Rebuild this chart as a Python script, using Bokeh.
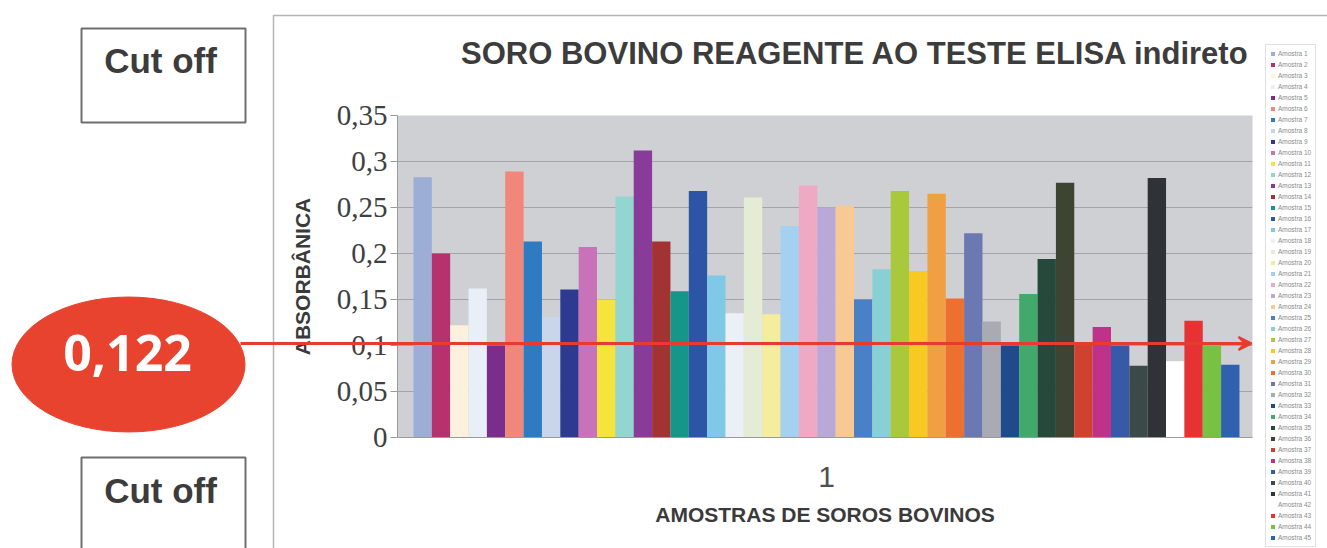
import math
from bokeh.plotting import figure
from bokeh.models import (ColumnDataSource, Label, Arrow, VeeHead, FixedTicker,
                          CustomJSTickFormatter, Legend, LegendItem)
from bokeh.embed import file_html
from bokeh.resources import INLINE

# ---------------- data ----------------
samples = [f"Amostra {i}" for i in range(1, 46)]
absorbance = [0.283, 0.200, 0.122, 0.162, 0.100, 0.289, 0.213, 0.131, 0.161, 0.207,
              0.150, 0.262, 0.312, 0.213, 0.159, 0.268, 0.176, 0.135, 0.261, 0.134,
              0.230, 0.274, 0.250, 0.252, 0.150, 0.183, 0.268, 0.181, 0.265, 0.151,
              0.222, 0.126, 0.100, 0.156, 0.194, 0.277, 0.102, 0.120, 0.100, 0.078,
              0.282, 0.083, 0.127, 0.100, 0.079]
bar_colors = ["#9DAED6", "#B5326F", "#FBF1DC", "#E8EFF6", "#7B2D8B", "#F0877A", "#2F7BC1",
              "#C9D5EA", "#2E3A90", "#C873B9", "#F6E33C", "#93D5D1", "#883B98", "#A33333",
              "#159689", "#2D55A6", "#7FC8E6", "#EAF0F5", "#E5ECD6", "#F4EC9E", "#A5D1F0",
              "#F0A9C2", "#B8A9D6", "#F8C992", "#4B80C6", "#89D0D5", "#A9C83B", "#F8C823",
              "#F0A042", "#EE7030", "#6A79B1", "#A9AAB2", "#1F4A8B", "#42A96A", "#25493A",
              "#3D4431", "#D1412F", "#BF3289", "#3859A8", "#3C4949", "#2F3338", "#FFFFFF",
              "#E63232", "#79C142", "#3060B0"]
category_labels = ["1"]
y_ticks = [0, 0.05, 0.1, 0.15, 0.2, 0.25, 0.3, 0.35]
cutoff_text = "0,122"
title_text = "SORO BOVINO REAGENTE AO TESTE ELISA indireto"
x_title = "AMOSTRAS DE SOROS BOVINOS"
y_title = "ABSORBÂNICA"
box_text = "Cut off"

# ---------------- main chart ----------------
W, H = 1327, 548
FL, FR, FT, FB = 397, 1252, 115, 437          # frame edges (page px)
x0, x1 = -1.37, len(samples) - 1 + 1.21

p = figure(frame_width=FR - FL, frame_height=FB - FT,
           x_range=(x0, x1), y_range=(0, 0.35),
           output_backend="svg", toolbar_location=None,
           min_border_left=FL, min_border_right=W - FR,
           min_border_top=FT, min_border_bottom=H - FB)
p.background_fill_color = "#CFD0D4"
p.border_fill_color = "white"
p.outline_line_color = None

src = ColumnDataSource(dict(x=list(range(len(samples))), top=absorbance,
                            color=bar_colors, label=samples))
r = p.vbar(x="x", top="top", width=1.0, bottom=0, fill_color="color",
           line_color=None, source=src)

yax = p.yaxis[0]
yax.ticker = FixedTicker(ticks=y_ticks)
yax.formatter = CustomJSTickFormatter(
    code="return tick.toFixed(2).replace(/0+$/,'').replace(/\\.$/,'').replace('.', ',')")
yax.major_label_text_font = "Liberation Serif"
yax.major_label_text_font_size = "29px"
yax.major_label_text_color = "#404040"
yax.major_tick_out = 7
yax.major_tick_in = 0
yax.minor_tick_out = 0
yax.minor_tick_in = 0
yax.major_label_standoff = 3
yax.axis_line_color = "#9A9A9A"
yax.major_tick_line_color = "#9A9A9A"
yax.axis_label = y_title
yax.axis_label_text_font = "Liberation Sans"
yax.axis_label_text_font_style = "bold"
yax.axis_label_text_font_size = "21px"
yax.axis_label_text_color = "#3A3A3A"
yax.axis_label_standoff = 20

xax = p.xaxis[0]
xax.ticker = FixedTicker(ticks=[(len(samples) - 1) / 2])
xax.formatter = CustomJSTickFormatter(args=dict(lab=category_labels[0]), code="return lab")
xax.major_label_text_font = "Liberation Sans"
xax.major_label_text_font_size = "30px"
xax.major_label_text_color = "#505050"
xax.major_tick_out = 0
xax.major_tick_in = 0
xax.minor_tick_out = 0
xax.minor_tick_in = 0
xax.major_label_standoff = 29
xax.axis_line_color = "#9A9A9A"
xax.axis_label = x_title
xax.axis_label_text_font = "Liberation Sans"
xax.axis_label_text_font_style = "bold"
xax.axis_label_text_font_size = "21px"
xax.axis_label_text_color = "#3A3A3A"
xax.axis_label_standoff = 13

p.xgrid.grid_line_color = None
p.ygrid.grid_line_color = "#A3A4AA"
p.ygrid.ticker = FixedTicker(ticks=y_ticks)

items = [LegendItem(label=samples[i], renderers=[r], index=i) for i in range(len(samples))]
LEG_TOP, LEG_LEFT = 46, 1265
pad, lab_h, gap = 4, 9, 2
leg_h = 2 * pad + len(samples) * lab_h + (len(samples) - 1) * gap
legend = Legend(items=items, location=(LEG_LEFT - FR, FB - (LEG_TOP + leg_h)),
                orientation="vertical",
                label_text_font="Liberation Sans", label_text_font_size="6.5px",
                label_text_color="#8A8A8A", glyph_width=5, glyph_height=5,
                label_height=lab_h, label_width=30, spacing=gap, padding=pad, margin=0,
                label_standoff=3, border_line_color="#C4C4C4",
                background_fill_color="white", background_fill_alpha=1.0)
p.add_layout(legend, "right")

# ---------------- overlay for decorations outside the plot area ----------------
ov = figure(width=W, height=H, x_range=(0, W), y_range=(H, 0),
            output_backend="svg", toolbar_location=None,
            x_axis_type=None, y_axis_type=None, min_border=0, title=None,
            background_fill_alpha=0, border_fill_alpha=0, outline_line_color=None,
            styles={"position": "absolute", "top": "0px", "left": "0px", "z-index": "10"})

# outer chart border
ov.quad(left=273, right=W + 20, top=15, bottom=H + 20, fill_alpha=0,
        line_color="#B4B4B4", line_width=1.5)

# Cut off boxes
for (top, bot, mid) in [(28, 122, 60), (457, H + 20, 490)]:
    ov.quad(left=81, right=245, top=top, bottom=bot, fill_color="white",
            line_color="#6E6E6E", line_width=2)
    ov.add_layout(Label(x=160, y=mid, text=box_text, text_align="center",
                        text_baseline="middle", text_font="Liberation Sans",
                        text_font_style="bold", text_font_size="35px", text_color="#3C3C3C"))

# title
ov.add_layout(Label(x=855, y=53, text=title_text, text_align="center",
                    text_baseline="middle", text_font="Liberation Sans",
                    text_font_style="bold", text_font_size="31px", text_color="#3C3C3C"))

# ellipse with cut-off value
ov.ellipse(x=128, y=364, width=233, height=135, fill_color="#E8432F", line_color="#E8432F")
ov.add_layout(Label(x=127, y=352, text=cutoff_text, text_align="center",
                    text_baseline="middle", text_font="Open Sans",
                    text_font_style="bold", text_font_size="50px", text_color="white"))

# red arrow (cut-off line)
ov.add_layout(Arrow(x_start=240, y_start=343, x_end=1251, y_end=343,
                    line_color="#E53B30", line_width=3,
                    end=VeeHead(size=13, line_color="#E53B30", fill_color="#E53B30",
                                line_width=2)))

open("out.html", "w").write(file_html([p, ov], INLINE))
